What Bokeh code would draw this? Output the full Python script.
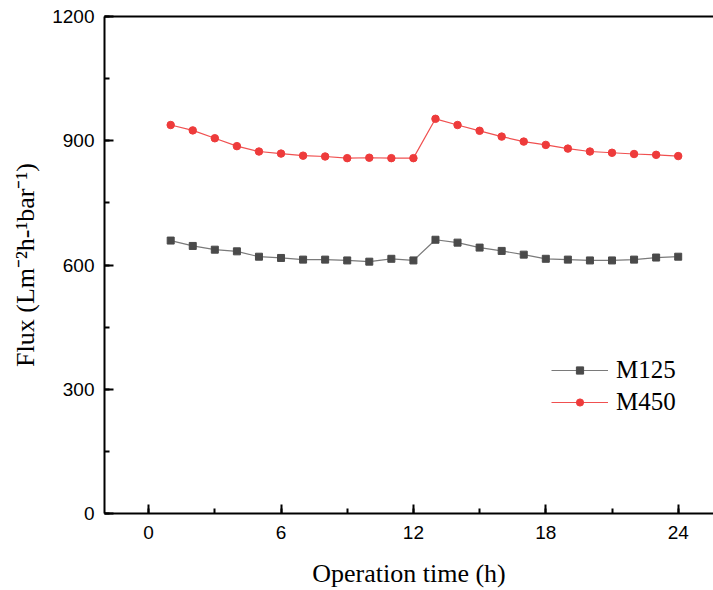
from bokeh.plotting import figure
from bokeh.models import (Range1d, LinearAxis, SingleIntervalTicker, FixedTicker,
                          Legend, LegendItem)
from bokeh.embed import file_html
from bokeh.resources import INLINE

# Operation time (h) and permeance flux of the two membranes
hours = list(range(1, 25))
m125 = [659, 646, 637, 633, 620, 617, 613, 613, 611, 608, 615, 611,
        661, 654, 642, 634, 625, 615, 613, 611, 611, 613, 618, 620]
m450 = [938, 925, 906, 887, 874, 869, 864, 862, 858, 859, 858, 858,
        953, 938, 924, 910, 898, 890, 881, 874, 871, 868, 866, 863]

x_ticks = [0, 6, 12, 18, 24]
y_ticks = [0, 300, 600, 900, 1200]

SERIF = "Liberation Serif"
SANS = "Liberation Sans"

p = figure(width=713, height=590, output_backend="svg", toolbar_location=None,
           x_range=Range1d(-2, 25.6), y_range=Range1d(0, 1200),
           x_axis_type=None, y_axis_type=None,
           min_border_left=104, min_border_right=0, min_border_top=16,
           min_border_bottom=10)
p.outline_line_color = None
p.xgrid.visible = False
p.ygrid.visible = False
p.background_fill_color = "white"
p.border_fill_color = "white"

def style_axis(ax, major, minor_n):
    ax.ticker = SingleIntervalTicker(interval=major, num_minor_ticks=minor_n)
    ax.axis_line_width = 2
    ax.axis_line_color = "black"
    ax.major_tick_in = 9
    ax.major_tick_out = 0
    ax.minor_tick_in = 5
    ax.minor_tick_out = 0
    ax.major_tick_line_width = 2
    ax.minor_tick_line_width = 2
    ax.major_label_text_font = SANS
    ax.major_label_text_font_size = "19px"
    ax.major_label_text_color = "black"
    ax.axis_label_text_font = SERIF
    ax.axis_label_text_font_size = "26px"
    ax.axis_label_text_font_style = "normal"
    ax.axis_label_text_color = "black"

xaxis = LinearAxis(axis_label="Operation time (h)")
style_axis(xaxis, 6, 2)
xaxis.major_label_standoff = 12
xaxis.axis_label_standoff = 17
p.add_layout(xaxis, "below")

yaxis = LinearAxis(axis_label="Flux (Lm⁻²h-¹bar⁻¹)")
style_axis(yaxis, 300, 2)
yaxis.major_label_standoff = 10
yaxis.axis_label_standoff = 9
p.add_layout(yaxis, "left")

# plain top frame line
top = LinearAxis(ticker=FixedTicker(ticks=[]), axis_line_width=2,
                 major_label_text_font_size="0px", major_tick_line_color=None,
                 minor_tick_line_color=None)
p.add_layout(top, "above")

gray_line = p.line(hours, m125, line_color="#7a7a7a", line_width=1.2)
gray_pts = p.scatter(hours, m125, marker="square", size=7,
                     fill_color="#4a4a4a", line_color="#4a4a4a")
red_line = p.line(hours, m450, line_color="#f05050", line_width=1.2)
red_pts = p.scatter(hours, m450, marker="circle", size=7.5,
                    fill_color="#ee3b3b", line_color="#ee3b3b")

legend = Legend(items=[LegendItem(label="M125", renderers=[gray_line, gray_pts]),
                       LegendItem(label="M450", renderers=[red_line, red_pts])],
                location=(447, 95), glyph_width=57, glyph_height=18,
                label_height=32, spacing=0, padding=0, margin=0,
                label_standoff=8, border_line_color=None,
                background_fill_alpha=0,
                label_text_font=SERIF, label_text_font_size="25px",
                label_text_color="black")
p.add_layout(legend, "center")

open("out.html", "w").write(file_html(p, INLINE))
